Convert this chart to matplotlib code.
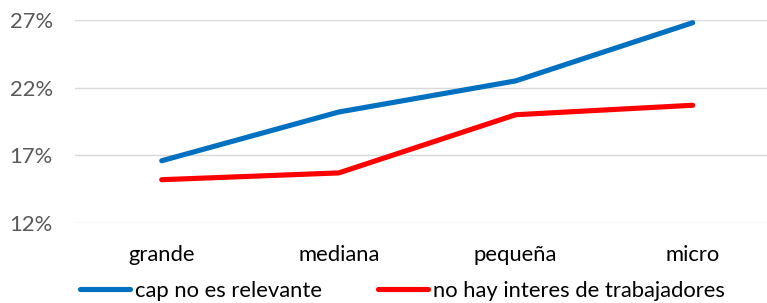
import matplotlib
matplotlib.use("Agg")
import matplotlib.pyplot as plt
from matplotlib.ticker import FuncFormatter

categories = ["grande", "mediana", "pequeña", "micro"]
cap_no_relevante = [16.6, 20.2, 22.5, 26.8]
no_interes_trab = [15.2, 15.7, 20.0, 20.7]
series_names = ["cap no es relevante", "no hay interes de trabajadores"]
y_ticks = [12, 17, 22, 27]

plt.rcParams["font.family"] = ["Lato", "DejaVu Sans"]
FS = 15.8

fig = plt.figure(figsize=(7.67, 3.03), dpi=100)
ax = fig.add_axes([75 / 767, 1 - 223 / 303, 692 / 767, 203 / 303])

x = range(len(categories))
l1, = ax.plot(x, cap_no_relevante, color="#0070C0", lw=3.7, solid_capstyle="round",
              label=series_names[0], clip_on=False)
l2, = ax.plot(x, no_interes_trab, color="#FF0000", lw=3.7, solid_capstyle="round",
              label=series_names[1], clip_on=False)

ax.set_xlim(-0.49, 3.42)
ax.set_ylim(12, 27)
ax.set_yticks(y_ticks)
ax.yaxis.set_major_formatter(FuncFormatter(lambda v, p: f"{v:.0f}%"))
ax.set_xticks(list(x))
ax.set_xticklabels(categories)
ax.grid(axis="y", color="#D9D9D9", lw=1)
ax.set_axisbelow(True)
for s in ax.spines.values():
    s.set_visible(False)
ax.tick_params(length=0)
ax.tick_params(axis="y", labelsize=FS, labelcolor="#595959", pad=16)
ax.tick_params(axis="x", labelsize=FS, labelcolor="#000000", pad=15.5)

# two single-entry legends placed side by side
for line, x0 in [(l1, 80), (l2, 378)]:
    leg = fig.legend(handles=[line], loc="center left",
                     bbox_to_anchor=(x0 / 767, 1 - 291 / 303),
                     frameon=False, fontsize=FS, handlelength=2.3,
                     handletextpad=0.2, borderaxespad=0, borderpad=0)
    for t in leg.get_texts():
        t.set_color("#000000")

fig.savefig("out.png", dpi=100)
